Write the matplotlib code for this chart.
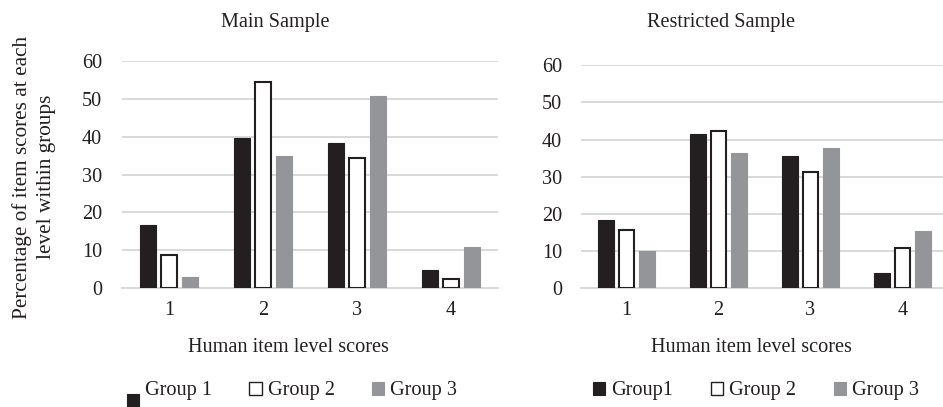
import matplotlib
matplotlib.use("Agg")
import matplotlib.pyplot as plt
from matplotlib.patches import Patch
import numpy as np

plt.rcParams['font.family'] = ['Liberation Serif', 'DejaVu Serif']

categories = ["1", "2", "3", "4"]
groups_main = ["Group 1", "Group 2", "Group 3"]
groups_restricted = ["Group1", "Group 2", "Group 3"]

main_g1 = [16.8, 39.5, 38.3, 4.8]
main_g2 = [8.7, 54.3, 34.4, 2.5]
main_g3 = [3.0, 34.8, 50.7, 10.9]

restr_g1 = [18.3, 41.4, 35.7, 4.0]
restr_g2 = [15.6, 42.2, 31.2, 10.8]
restr_g3 = [10.1, 36.3, 37.8, 15.3]

yticks = [0, 10, 20, 30, 40, 50, 60]

W, H = 943, 407
fig = plt.figure(figsize=(W / 100, H / 100), dpi=100)

FS = 14.6
BLACK = "#231f20"
GRAY = "#939598"
GRID = "#d9d9d9"


def px_axes(x0, x1, y0, y1):
    return fig.add_axes([x0 / W, 1 - y1 / H, (x1 - x0) / W, (y1 - y0) / H])


def draw(ax, series, width, stride, ypad):
    x = np.arange(len(categories))
    styles = [dict(color=BLACK, edgecolor=BLACK, linewidth=0.8),
              dict(color="white", edgecolor=BLACK, linewidth=1.5),
              dict(color=GRAY, edgecolor=GRAY, linewidth=0.8)]
    for i, (vals, st) in enumerate(zip(series, styles)):
        ax.bar(x + (i - 1) * stride, vals, width, zorder=3, **st)
    ax.set_xlim(-0.5, len(categories) - 0.5)
    ax.set_ylim(0, 60)
    ax.set_yticks(yticks)
    ax.set_xticks(x)
    ax.set_xticklabels(categories)
    ax.yaxis.grid(True, color=GRID, linewidth=1.4, zorder=0)
    ax.set_axisbelow(True)
    for s in ["top", "right", "left"]:
        ax.spines[s].set_visible(False)
    ax.spines["bottom"].set_color(GRID)
    ax.spines["bottom"].set_linewidth(1.4)
    ax.spines["bottom"].set_zorder(2)
    ax.tick_params(axis="both", length=0, labelsize=FS, colors="#231f20")
    ax.tick_params(axis="y", pad=ypad)
    ax.tick_params(axis="x", pad=9)


ax1 = px_axes(122, 498, 60.7, 288.3)
draw(ax1, [main_g1, main_g2, main_g3], 0.178, 0.222, 14.4)

ax2 = px_axes(580.5, 948.5, 65.3, 288.3)
draw(ax2, [restr_g1, restr_g2, restr_g3], 0.171, 0.221, 13.3)

# titles and labels
fig.text(275 / W, 1 - 22 / H, "Main Sample", ha="center", va="center", fontsize=FS, color="#231f20")
fig.text(721 / W, 1 - 22 / H, "Restricted Sample", ha="center", va="center", fontsize=FS, color="#231f20")
fig.text(288 / W, 1 - 347 / H, "Human item level scores", ha="center", va="center", fontsize=FS, color="#231f20")
fig.text(751 / W, 1 - 347 / H, "Human item level scores", ha="center", va="center", fontsize=FS, color="#231f20")
fig.text(34 / W, 1 - 177 / H, "Percentage of item scores at each\nlevel within groups",
         rotation=90, ha="center", va="center", fontsize=15.3, linespacing=1.4,
         multialignment="center", color="#231f20")


def handles():
    return [Patch(facecolor=BLACK, edgecolor=BLACK, linewidth=0.8),
            Patch(facecolor="white", edgecolor=BLACK, linewidth=1.0),
            Patch(facecolor=GRAY, edgecolor=GRAY, linewidth=0.8)]


leg_kw = dict(ncol=3, frameon=False, fontsize=FS, handlelength=0.6, handleheight=0.6,
              handletextpad=0.3, columnspacing=1.85, borderpad=0, borderaxespad=0,
              loc="center")
leg1 = fig.legend(handles(), groups_main, bbox_to_anchor=(292 / W, 1 - 391 / H), **leg_kw)
leg2 = fig.legend(handles(), groups_restricted, bbox_to_anchor=(756 / W, 1 - 391 / H), **leg_kw)
for leg in (leg1, leg2):
    for t in leg.get_texts():
        t.set_color("#231f20")
# first marker of the left legend sits lower in the reference
p = leg1.get_patches()[0]
p.set_y(p.get_y() - 8.5)

fig.savefig("out.png", dpi=100)
